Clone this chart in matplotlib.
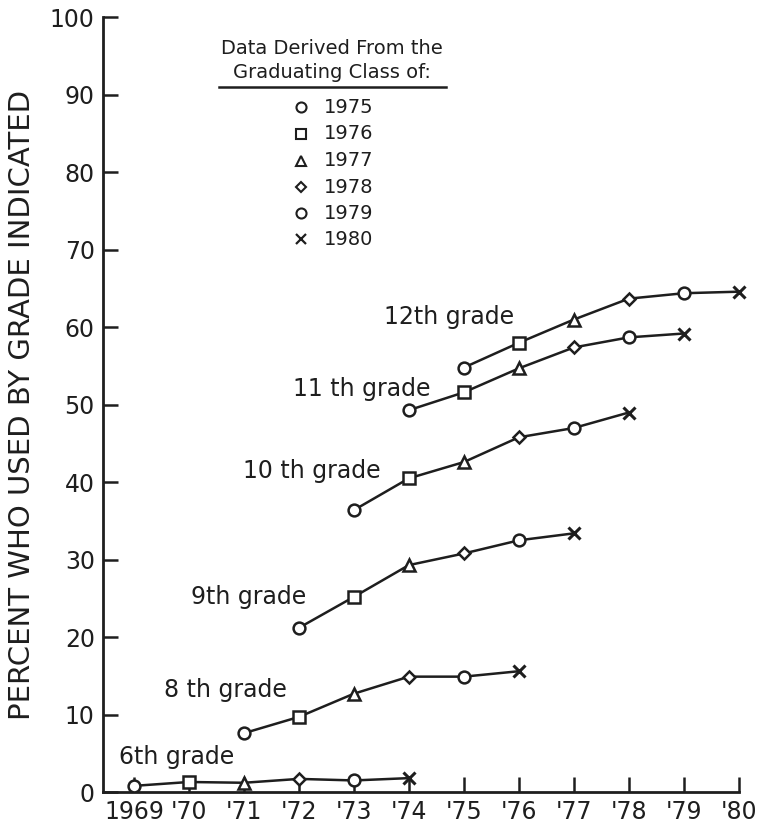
import matplotlib.pyplot as plt

# school years on the x axis
years = [1969, 1970, 1971, 1972, 1973, 1974, 1975, 1976, 1977, 1978, 1979, 1980]
year_labels = ['1969', "'70", "'71", "'72", "'73", "'74", "'75", "'76", "'77", "'78", "'79", "'80"]

# markers stand for graduating class 1975 .. 1980
classes = ['1975', '1976', '1977', '1978', '1979', '1980']
class_markers = ['o', 's', '^', 'D', 'o', 'x']

# percent who used by grade indicated, one value per graduating class
grade_names = ['6th grade', '8 th grade', '9th grade', '10 th grade', '11 th grade', '12th grade']
grade_start = [1969, 1971, 1972, 1973, 1974, 1975]
grade_6 = [0.8, 1.3, 1.2, 1.7, 1.5, 1.8]
grade_8 = [7.6, 9.7, 12.7, 14.9, 14.9, 15.6]
grade_9 = [21.2, 25.2, 29.3, 30.8, 32.5, 33.4]
grade_10 = [36.4, 40.5, 42.6, 45.8, 47.0, 49.0]
grade_11 = [49.3, 51.6, 54.7, 57.4, 58.7, 59.2]
grade_12 = [54.8, 58.0, 61.0, 63.7, 64.4, 64.6]
grade_values = [grade_6, grade_8, grade_9, grade_10, grade_11, grade_12]

# label anchors (left edge, vertical centre) in data units
label_x = [1968.73, 1969.55, 1970.04, 1970.98, 1971.9, 1973.55]
label_y = [4.5, 13.2, 25.2, 41.5, 52.1, 61.3]

ink = '#1e1e1e'
plt.rcParams['font.family'] = ['DejaVu Sans']

fig = plt.figure(figsize=(7.64, 8.32), dpi=100)
ax = fig.add_axes([0.135, 0.048, 0.832, 0.931])

marker_size = {'o': 8.5, 's': 8, '^': 8.5, 'D': 6.5}
for name, start, vals, lx, ly in zip(grade_names, grade_start, grade_values, label_x, label_y):
    xs = [start + i for i in range(len(vals))]
    ax.plot(xs, vals, '-', color=ink, lw=1.8, zorder=2)
    for x, v, m in zip(xs, vals, class_markers):
        if m == 'x':
            ax.plot(x, v, 'x', color=ink, ms=8, mew=2.2, zorder=3, clip_on=False)
        else:
            ax.plot(x, v, m, mfc='white', mec=ink, ms=marker_size[m], mew=1.8, zorder=3)
    ax.text(lx, ly, name, fontsize=17, color=ink, ha='left', va='center')

# key for graduating classes
ax.text(1972.6, 96.0, 'Data Derived From the', fontsize=14, color=ink, ha='center', va='center')
ax.text(1972.6, 92.9, 'Graduating Class of:', fontsize=14, color=ink, ha='center', va='center')
ax.plot([1970.55, 1974.67], [91.0, 91.0], color=ink, lw=1.8, clip_on=False)
key_y = [88.4, 85.0, 81.5, 78.1, 74.7, 71.4]
for c, m, ky in zip(classes, class_markers, key_y):
    if m == 'x':
        ax.plot(1972.04, ky, 'x', color=ink, ms=7, mew=1.6)
    else:
        ax.plot(1972.04, ky, m, mfc='white', mec=ink, ms=marker_size[m] * 0.85, mew=1.5)
    ax.text(1972.45, ky, c, fontsize=14, color=ink, ha='left', va='center')

ax.set_xlim(1968.44, 1980)
ax.set_ylim(0, 100)
ax.set_xticks(years)
ax.set_xticklabels(year_labels)
ax.set_yticks(range(0, 101, 10))
ax.tick_params(direction='in', length=11, width=1.8, colors=ink, labelsize=17, pad=6)
ax.spines['top'].set_visible(False)
ax.spines['right'].set_visible(False)
for s in ['left', 'bottom']:
    ax.spines[s].set_linewidth(2)
    ax.spines[s].set_color(ink)
ax.set_ylabel('PERCENT WHO USED BY GRADE INDICATED', fontsize=21, color=ink, labelpad=10)

fig.savefig('out.png', dpi=100)
